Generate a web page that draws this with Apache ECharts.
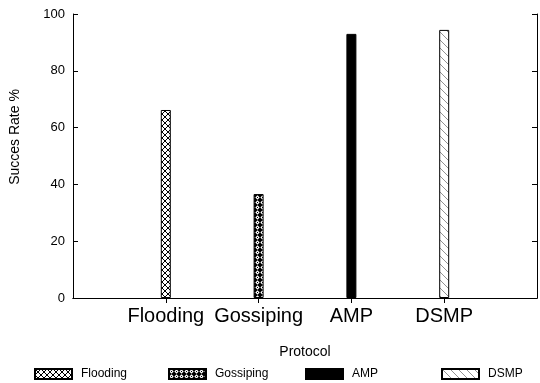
<!DOCTYPE html>
<html>
<head>
<meta charset="utf-8">
<script src="https://cdn.jsdelivr.net/npm/echarts@6/dist/echarts.min.js"></script>
<style>
  html, body { margin: 0; padding: 0; background: #fff; }
  #chart { width: 540px; height: 383px; }
</style>
</head>
<body>
<div id="chart"></div>
<script>
const categories = ['Flooding', 'Gossiping', 'AMP', 'DSMP'];
const successRate = [66.2, 36.6, 93.0, 94.4];
const yTicks = [0, 20, 40, 60, 80, 100];

// padded axis so that bars sit at positions 1..4 of a 0..5 range
const axisData = [''].concat(categories, ['']);

function tile(size, draw) {
  const c = document.createElement('canvas');
  c.width = size;
  c.height = size;
  const ctx = c.getContext('2d');
  draw(ctx, size);
  return c;
}

const crossHatch = tile(6, (ctx, s) => {
  ctx.fillStyle = '#fff';
  ctx.fillRect(0, 0, s, s);
  ctx.strokeStyle = '#000';
  ctx.lineWidth = 1;
  ctx.beginPath();
  ctx.moveTo(0, 0); ctx.lineTo(s, s);
  ctx.moveTo(s, 0); ctx.lineTo(0, s);
  ctx.stroke();
});

const denseHatch = tile(5, (ctx, s) => {
  ctx.fillStyle = '#000';
  ctx.fillRect(0, 0, s, s);
  ctx.fillStyle = '#fff';
  ctx.beginPath();
  ctx.moveTo(2.5, 0.3); ctx.lineTo(4.7, 2.5); ctx.lineTo(2.5, 4.7); ctx.lineTo(0.3, 2.5);
  ctx.closePath();
  ctx.fill();
  ctx.fillStyle = '#000';
  ctx.fillRect(2, 2, 1, 1);
});

const lightHatch = tile(8, (ctx, s) => {
  ctx.fillStyle = '#fff';
  ctx.fillRect(0, 0, s, s);
  ctx.strokeStyle = '#777';
  ctx.lineWidth = 0.8;
  ctx.beginPath();
  ctx.moveTo(0, 0); ctx.lineTo(s, s);
  ctx.stroke();
});

const fills = [
  { image: crossHatch, repeat: 'repeat' },
  { image: denseHatch, repeat: 'repeat' },
  '#000',
  { image: lightHatch, repeat: 'repeat' }
];

const legendLeft = [29, 163, 300, 436];
const font = 'Liberation Sans';

const chart = echarts.init(document.getElementById('chart'), null, { renderer: 'canvas' });

chart.setOption({
  animation: false,
  textStyle: { fontFamily: font, color: '#000' },
  grid: { left: 73, right: 1, top: 14, bottom: 85 },
  legend: categories.map((name, i) => ({
    data: [name],
    icon: 'rect',
    left: legendLeft[i],
    top: 363,
    itemWidth: 37,
    itemHeight: 10,
    itemGap: 0,
    textStyle: { fontFamily: font, fontSize: 12, color: '#000', padding: [0, 0, 0, 4] },
    selectedMode: false
  })),
  xAxis: [
    {
      type: 'category',
      data: axisData,
      boundaryGap: false,
      name: 'Protocol',
      nameLocation: 'middle',
      nameGap: 47,
      nameTextStyle: { fontFamily: font, fontSize: 14, color: '#000' },
      axisLine: { lineStyle: { color: '#000', width: 1 } },
      axisTick: { show: false },
      axisLabel: { fontFamily: font, fontSize: 20, color: '#000', margin: 8, interval: 0 },
      splitLine: { show: false }
    },
    {
      type: 'category',
      data: axisData,
      boundaryGap: false,
      position: 'top',
      axisLine: { lineStyle: { color: '#000', width: 1 } },
      axisTick: { inside: true, length: 5, lineStyle: { color: '#000' }, interval: (i) => i > 0 && i < axisData.length - 1 },
      axisLabel: { show: false },
      splitLine: { show: false }
    }
  ],
  yAxis: [
    {
      type: 'value',
      min: 0,
      max: 100,
      interval: 20,
      axisLine: { show: true, lineStyle: { color: '#000', width: 1 } },
      axisTick: { show: true, inside: true, length: 5, lineStyle: { color: '#000' } },
      axisLabel: {
        fontFamily: font, fontSize: 13, color: '#000', margin: 8,
        formatter: (v) => (yTicks.indexOf(v) >= 0 ? String(v) : '')
      },
      splitLine: { show: false }
    },
    {
      type: 'value',
      min: 0,
      max: 100,
      interval: 20,
      position: 'right',
      axisLine: { show: true, lineStyle: { color: '#000', width: 1 } },
      axisTick: { show: true, inside: true, length: 5, lineStyle: { color: '#000' } },
      axisLabel: { show: false },
      splitLine: { show: false }
    }
  ],
  graphic: [
    {
      type: 'text',
      x: 15,
      y: 137,
      rotation: Math.PI / 2,
      style: {
        text: 'Succes Rate %',
        fontFamily: font,
        fontSize: 14,
        fill: '#000',
        align: 'center',
        verticalAlign: 'middle'
      }
    }
  ],
  series: categories.map((name, i) => ({
    name: name,
    type: 'bar',
    stack: 'all',
    barWidth: 10,
    data: axisData.map((c) => (c === name ? successRate[i] : '-')),
    itemStyle: { color: fills[i], borderColor: '#000', borderWidth: 1 }
  }))
});
</script>
</body>
</html>
